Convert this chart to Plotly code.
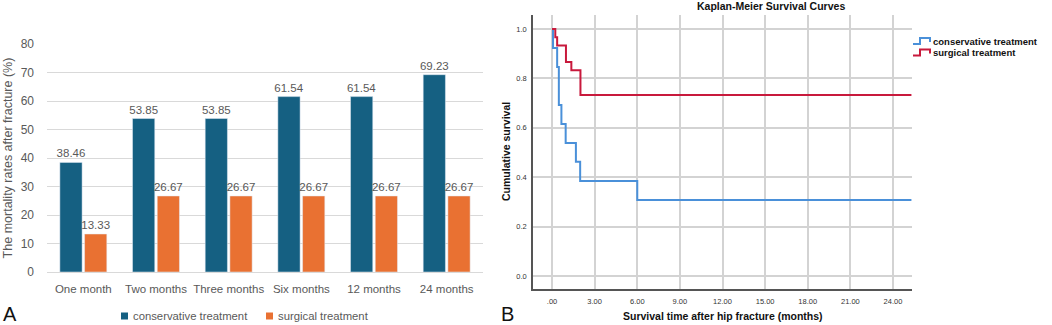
import plotly.graph_objects as go

# ---------- Data: panel A ----------
periods = ["One month", "Two months", "Three months", "Six months", "12 months", "24 months"]
conservative_rate = [38.46, 53.85, 53.85, 61.54, 61.54, 69.23]
surgical_rate = [13.33, 26.67, 26.67, 26.67, 26.67, 26.67]
bar_names = ["conservative treatment", "surgical treatment"]
bar_colors = ["#156082", "#E97132"]

# ---------- Data: panel B (Kaplan-Meier steps) ----------
cons_time = [0.0, 0.07, 0.36, 0.48, 0.66, 0.96, 1.68, 1.98, 6.0, 25.3]
cons_surv = [1.0, 0.923, 0.846, 0.692, 0.615, 0.538, 0.462, 0.385, 0.308, 0.308]
surg_time = [0.0, 0.23, 0.36, 0.98, 1.36, 2.0, 25.3]
surg_surv = [1.0, 0.967, 0.933, 0.867, 0.833, 0.733, 0.733]

km_tickvals = [0, 3, 6, 9, 12, 15, 18, 21, 24]
km_ticktext = [".00", "3.00", "6.00", "9.00", "12.00", "15.00", "18.00", "21.00", "24.00"]
surv_ticks = [0.0, 0.2, 0.4, 0.6, 0.8, 1.0]

km_names = ["conservative treatment", "surgical treatment"]
km_colors = ["#4A90D9", "#C8193C"]

W, H = 1052, 325
def px_x(p):
    return p / W
def px_y(p):
    return 1 - p / H

GRAY = "#595959"
FONT_A = "Liberation Sans, Arial, sans-serif"

fig = go.Figure()

for vals, nm, col in [(conservative_rate, bar_names[0], bar_colors[0]),
                      (surgical_rate, bar_names[1], bar_colors[1])]:
    fig.add_trace(go.Bar(
        x=periods, y=vals, name=nm,
        marker=dict(color=col),
        text=[f"{v:.2f}" for v in vals], textposition="outside",
        constraintext="none",
        textfont=dict(color=GRAY, size=11.5, family=FONT_A), cliponaxis=False,
        xaxis="x", yaxis="y", showlegend=False,
    ))

fig.add_trace(go.Scatter(
    x=cons_time, y=cons_surv, mode="lines", line=dict(shape="hv", color=km_colors[0], width=2),
    name=km_names[0], xaxis="x2", yaxis="y2", showlegend=False,
))
fig.add_trace(go.Scatter(
    x=surg_time, y=surg_surv, mode="lines", line=dict(shape="hv", color=km_colors[1], width=2),
    name=km_names[1], xaxis="x2", yaxis="y2", showlegend=False,
))

annotations = [
    dict(text="<b>Kaplan-Meier Survival Curves</b>", x=px_x(771), y=px_y(6),
         xref="paper", yref="paper", showarrow=False, xanchor="center", yanchor="middle",
         font=dict(size=10.5, color="#111111", family=FONT_A)),
    dict(text="<b>Survival time after hip fracture (months)</b>", x=px_x(723), y=px_y(316),
         xref="paper", yref="paper", showarrow=False, xanchor="center", yanchor="middle",
         font=dict(size=10.5, color="#111111", family=FONT_A)),
    dict(text="<b>Cumulative survival</b>", x=px_x(506), y=px_y(152), textangle=-90,
         xref="paper", yref="paper", showarrow=False, xanchor="center", yanchor="middle",
         font=dict(size=10.5, color="#111111", family=FONT_A)),
    dict(text="A", x=px_x(1), y=px_y(314), xref="paper", yref="paper", showarrow=False,
         xanchor="left", yanchor="middle", font=dict(size=20, color="#111111", family=FONT_A)),
    dict(text="B", x=px_x(499), y=px_y(314), xref="paper", yref="paper", showarrow=False,
         xanchor="left", yanchor="middle", font=dict(size=20, color="#111111", family=FONT_A)),
]
shapes = []

# Legend for panel A (Office style: small squares)
for (sx, tx), nm, col in zip([(121, 131), (266, 276)], bar_names, bar_colors):
    shapes.append(dict(type="rect", xref="paper", yref="paper",
                       x0=px_x(sx), x1=px_x(sx + 7), y0=px_y(319.5), y1=px_y(312.5),
                       fillcolor=col, line=dict(width=0)))
    annotations.append(dict(text=nm, x=px_x(tx), y=px_y(316), xref="paper", yref="paper",
                            showarrow=False, xanchor="left", yanchor="middle",
                            font=dict(size=11.3, color=GRAY, family=FONT_A)))

# Step-shaped legend for panel B (SPSS style)
for i, (nm, col) in enumerate(zip(km_names, km_colors)):
    yc = 41 + i * 11.5
    x0, x1, x2 = 913, 920, 930
    ylo, yhi = yc + 3, yc - 3
    path = (f"M {px_x(x0)},{px_y(ylo)} L {px_x(x1)},{px_y(ylo)} L {px_x(x1)},{px_y(yhi)} "
            f"L {px_x(x2)},{px_y(yhi)} L {px_x(x2)},{px_y(yc + 1)}")
    shapes.append(dict(type="path", xref="paper", yref="paper", path=path,
                       line=dict(color=col, width=2)))
    annotations.append(dict(text=f"<b>{nm}</b>", x=px_x(931), y=px_y(yc), xref="paper", yref="paper",
                            showarrow=False, xanchor="left", yanchor="middle",
                            font=dict(size=9.5, color="#111111", family=FONT_A)))

fig.update_layout(
    width=W, height=H,
    margin=dict(l=0, r=0, t=0, b=0, autoexpand=False),
    paper_bgcolor="white", plot_bgcolor="white",
    font=dict(family=FONT_A, color=GRAY),
    barmode="group", bargap=0.32, bargroupgap=0.1,
    xaxis=dict(
        domain=[px_x(47), px_x(483)], anchor="y", tickangle=0, automargin=False,
        showgrid=False, showline=False, ticks="", zeroline=False,
        tickfont=dict(size=11.5, color=GRAY, family=FONT_A),
        ticklabelstandoff=8,
    ),
    yaxis=dict(
        domain=[px_y(272), px_y(44)], anchor="x", automargin=False,
        range=[0, 80], dtick=10, showgrid=True, gridcolor="#D9D9D9", gridwidth=1,
        zeroline=True, zerolinecolor="#D9D9D9", zerolinewidth=1,
        showline=False, ticks="",
        tickfont=dict(size=12, color=GRAY, family=FONT_A),
        ticklabelstandoff=12,
        title=dict(text="The mortality rates after fracture (%)",
                   font=dict(size=12.5, color=GRAY, family=FONT_A), standoff=5),
    ),
    xaxis2=dict(
        domain=[px_x(533), px_x(912)], anchor="y2", automargin=False,
        range=[-1.34, 25.34], tickvals=km_tickvals, ticktext=km_ticktext, tickangle=0,
        showgrid=True, gridcolor="#D3D3D3", gridwidth=1.5,
        zeroline=False, showline=True, linecolor="#555555", linewidth=1.5,
        ticks="", tickfont=dict(size=7.5, color="#333333", family=FONT_A),
        ticklabelstandoff=4,
    ),
    yaxis2=dict(
        domain=[px_y(289), px_y(15)], anchor="x2", automargin=False,
        range=[-0.053, 1.057], tickvals=surv_ticks,
        ticktext=[f"{v:.1f}" for v in surv_ticks],
        showgrid=True, gridcolor="#D3D3D3", gridwidth=1.5,
        zeroline=False, showline=True, linecolor="#555555", linewidth=1.5,
        ticks="", tickfont=dict(size=7.5, color="#333333", family=FONT_A),
        ticklabelstandoff=3,
    ),
    showlegend=False,
    annotations=annotations,
    shapes=shapes,
)

fig.write_html("out.html", config={"displayModeBar": False},
               post_script="document.body.style.margin='0';")
